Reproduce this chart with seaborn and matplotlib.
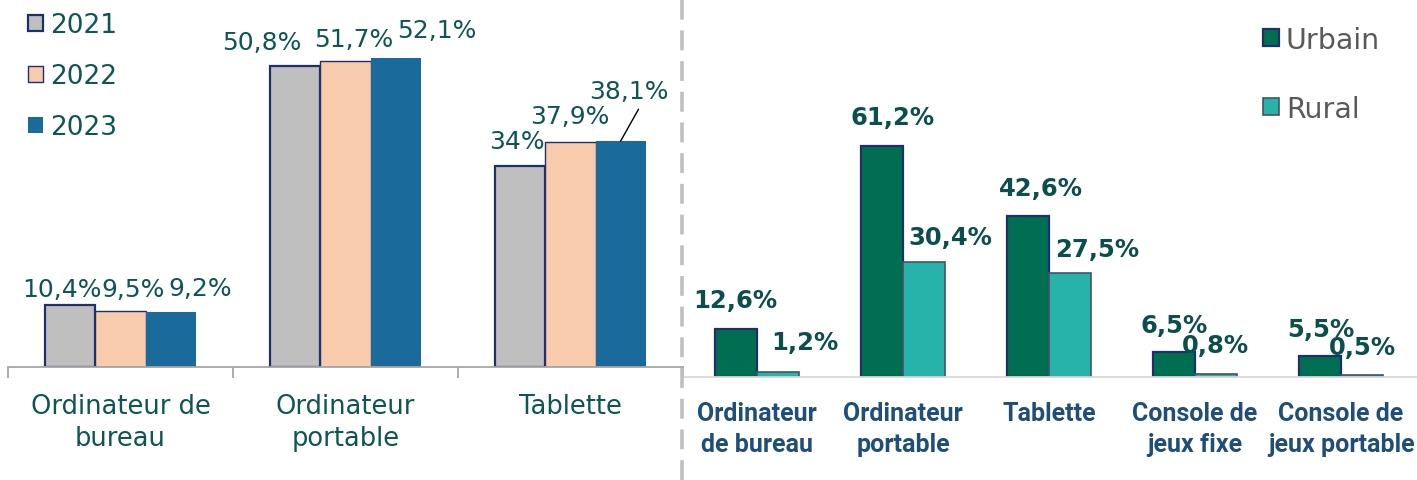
import matplotlib
matplotlib.use("Agg")
import matplotlib.pyplot as plt
from matplotlib.lines import Line2D
from matplotlib.patches import Patch
import pandas as pd
import seaborn as sns

# ------------------------------------------------------------
# data
# ------------------------------------------------------------
devices_left = ["Ordinateur de\nbureau", "Ordinateur\nportable", "Tablette"]
years = ["2021", "2022", "2023"]
v2021 = [10.4, 50.8, 34.0]
v2022 = [9.5, 51.7, 37.9]
v2023 = [9.2, 52.1, 38.1]

devices_right = ["Ordinateur\nde bureau", "Ordinateur\nportable", "Tablette",
                 "Console de\njeux fixe", "Console de\njeux portable"]
zones = ["Urbain", "Rural"]
urbain = [12.6, 61.2, 42.6, 6.5, 5.5]
rural = [1.2, 30.4, 27.5, 0.8, 0.5]

# label offsets (pixels) from the top centre of each bar: [hue][category]
left_offsets = [
    [(-8, 16), (-34, 24), (-4, 25)],
    [(13, 22), (8, 22), (-1, 26)],
    [(30, 24), (41, 28), (8, 50)],
]
right_offsets = [
    [(-1, 29), (11, 29), (13, 28), (0, 27), (1, 27)],
    [(27, 30), (26, 25), (27, 24), (-1, 29), (0, 28)],
]

TEAL_TXT = "#0E5654"
NAVY = "#1F2F6B"
PX = 0.72  # points per pixel at dpi 100


def fmt(v):
    return f"{v:g}".replace(".", ",") + "%"


sns.set_theme(style="white")
plt.rcParams["font.family"] = ["DejaVu Sans"]

fig = plt.figure(figsize=(14.17, 4.81), dpi=100)
W, H = 1417, 481

# ------------------------------------------------------------
# left panel: years
# ------------------------------------------------------------
df_left = pd.DataFrame({
    "device": devices_left * 3,
    "year": [y for y in years for _ in devices_left],
    "value": v2021 + v2022 + v2023,
})
ax1 = fig.add_axes([8 / W, (H - 368) / H, 675 / W, 368 / H])
sns.barplot(data=df_left, x="device", y="value", hue="year", hue_order=years,
            palette=["#BFBFBF", "#F8CBAD", "#1B6A9C"], width=0.667,
            saturation=1, legend=False, ax=ax1)
ax1.set_ylim(0, 62.1)
ax1.set_xlim(-0.5, 2.5)
edge_left = [(NAVY, 1.6), (NAVY, 1.0), ("#1B6A9C", 0.0)]
for h, cont in enumerate(ax1.containers):
    ec, lw = edge_left[h]
    for i, p in enumerate(cont.patches):
        p.set_edgecolor(ec)
        p.set_linewidth(lw)
        cx = p.get_x() + p.get_width() / 2
        top = p.get_height()
        dx, dy = left_offsets[h][i]
        ax1.annotate(fmt(top), (cx, top), xytext=(dx * PX, dy * PX),
                     textcoords="offset points", ha="center", va="center",
                     fontsize=18, color=TEAL_TXT)
        if h == 2 and i == 2:
            # leader line for the moved label
            ax1.annotate("", (cx, top), xytext=(18 * PX, 32 * PX),
                         textcoords="offset points",
                         arrowprops=dict(arrowstyle="-", color="black", lw=1.0,
                                         shrinkA=0, shrinkB=0))

for s in ["top", "right", "left"]:
    ax1.spines[s].set_visible(False)
ax1.spines["bottom"].set_color("#A6A6A6")
ax1.spines["bottom"].set_linewidth(1.3)
ax1.set_yticks([])
ax1.set_xlabel("")
ax1.set_ylabel("")
ax1.set_xticks([-0.5, 0.5, 1.5, 2.5], minor=True)
ax1.tick_params(axis="x", which="minor", length=8, width=1.3, color="#A6A6A6",
                direction="out", bottom=True)
ax1.tick_params(axis="x", which="major", length=0, pad=19, labelsize=18.5,
                labelcolor=TEAL_TXT)
for t in ax1.get_xticklabels():
    t.set_linespacing(1.3)

leg1 = ax1.legend(
    handles=[Patch(facecolor="#BFBFBF", edgecolor=NAVY, lw=1.6),
             Patch(facecolor="#F8CBAD", edgecolor=NAVY, lw=1.0),
             Patch(facecolor="#1B6A9C", edgecolor="#1B6A9C", lw=0)],
    labels=years, loc="upper left", bbox_to_anchor=(-0.018, 1.05),
    frameon=False, fontsize=19, handlelength=0.6, handleheight=0.6,
    handletextpad=0.25, labelspacing=0.95, borderaxespad=0.8)
for t in leg1.get_texts():
    t.set_color(TEAL_TXT)

# ------------------------------------------------------------
# right panel: urban / rural
# ------------------------------------------------------------
df_right = pd.DataFrame({
    "device": devices_right * 2,
    "zone": [z for z in zones for _ in devices_right],
    "value": urbain + rural,
})
ax2 = fig.add_axes([684 / W, (H - 378) / H, 733 / W, 378 / H])
sns.barplot(data=df_right, x="device", y="value", hue="zone", hue_order=zones,
            palette=["#006E51", "#27B3AA"], width=0.575, saturation=1,
            legend=False, ax=ax2)
ax2.set_ylim(0, 100)
ax2.set_xlim(-0.5, 4.52)
edge_right = [(NAVY, 1.6), ("#44546A", 1.2)]
for h, cont in enumerate(ax2.containers):
    ec, lw = edge_right[h]
    for i, p in enumerate(cont.patches):
        p.set_edgecolor(ec)
        p.set_linewidth(lw)
        cx = p.get_x() + p.get_width() / 2
        top = p.get_height()
        dx, dy = right_offsets[h][i]
        ax2.annotate(fmt(top), (cx, top), xytext=(dx * PX, dy * PX),
                     textcoords="offset points", ha="center", va="center",
                     fontsize=17.5, fontweight="bold", color="#0B4F4C")

for s in ["top", "right", "left"]:
    ax2.spines[s].set_visible(False)
ax2.spines["bottom"].set_color("#D9D9D9")
ax2.spines["bottom"].set_linewidth(1.3)
ax2.set_yticks([])
ax2.set_xlabel("")
ax2.set_ylabel("")
ax2.tick_params(axis="x", which="major", length=0, pad=17)
for t in ax2.get_xticklabels():
    t.set_family(["Roboto", "DejaVu Sans"])
    t.set_fontsize(18)
    t.set_fontweight("bold")
    t.set_color("#1F4E79")
    t.set_linespacing(1.4)

leg2 = ax2.legend(
    handles=[Patch(facecolor="#006E51", edgecolor=NAVY, lw=1.6),
             Patch(facecolor="#27B3AA", edgecolor="#44546A", lw=1.2)],
    labels=zones, loc="upper left", bbox_to_anchor=(545 / 733, 1.02),
    frameon=False, fontsize=20.5, handlelength=0.55, handleheight=0.55,
    handletextpad=0.25, labelspacing=1.45, borderaxespad=0.8)
for t in leg2.get_texts():
    t.set_color("#595959")

# dashed divider
fig.add_artist(Line2D([682 / W, 682 / W], [0, 1], transform=fig.transFigure,
                      color="#BFBFBF", lw=2.6, linestyle=(0, (5.5, 3))))

fig.savefig("out.png", dpi=100)
